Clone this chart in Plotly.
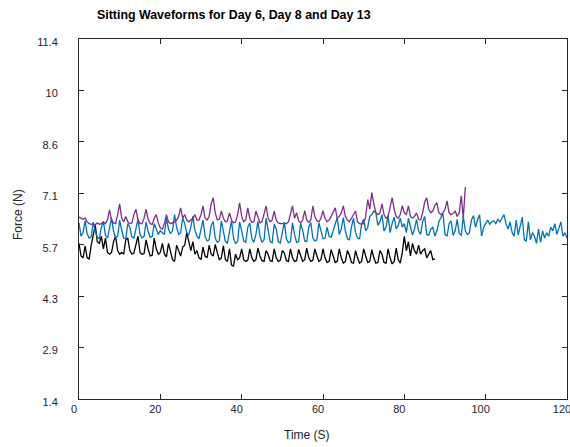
import numpy as np
import plotly.graph_objects as go

DT = 0.5
day13_blue = [
    6.32, 5.95, 6.05, 6.38, 6.02, 5.90, 5.93, 6.34, 6.10, 5.92, 5.88, 6.20, 6.36, 5.98, 5.90, 6.15, 6.46, 6.08, 5.92, 5.95,
    6.40, 6.12, 5.90, 5.88, 6.30, 6.20, 5.93, 5.90, 6.12, 6.42, 6.00, 5.90, 5.95, 6.35, 6.08, 5.92, 5.94, 6.30, 6.15, 6.00, 6.10,
    6.05, 6.00, 6.45, 6.15, 6.02, 6.10, 6.55, 6.20, 6.00, 6.05, 6.45, 6.30, 6.05, 5.98, 6.20, 6.50, 6.12, 5.95, 5.88, 6.15,
    6.40, 5.95, 5.82, 5.85, 6.25, 6.36, 5.90, 5.78, 5.82, 6.38, 6.05, 5.80, 5.76, 6.10, 6.38, 5.90, 5.75, 5.80, 6.35, 6.10,
    5.82, 5.78, 6.20, 6.32, 5.88, 5.78, 6.00, 6.36, 5.95, 5.78, 5.85, 6.45, 6.10, 5.80, 5.77, 6.28, 6.15, 5.80, 5.76, 6.05,
    6.34, 5.88, 5.77, 5.80, 6.32, 6.00, 5.78, 5.80, 6.30, 6.12, 5.82, 5.80, 6.20, 6.33, 5.90, 5.82, 5.85, 6.32, 6.05, 5.88,
    5.90, 6.20, 5.95, 5.92, 6.10, 6.30, 6.47, 6.00, 6.15, 6.47, 6.10, 5.88, 5.85, 6.20, 6.45, 6.05, 5.90, 5.88, 6.30, 6.42,
    6.10, 6.20, 6.50, 6.55, 6.65, 6.60, 6.25, 6.35, 6.55, 6.10, 6.20, 6.52, 6.05, 6.30, 6.48, 6.15, 6.25, 6.45, 6.20, 6.30,
    6.05, 6.45, 6.20, 5.98, 6.15, 6.42, 6.10, 6.00, 6.35, 6.50, 6.00, 5.98, 6.15, 6.20, 5.95, 6.10, 6.35, 6.45, 6.58, 6.00,
    5.95, 6.30, 6.38, 5.97, 6.10, 6.42, 6.02, 5.98, 6.50, 6.10, 6.00, 6.05, 6.40, 6.52, 6.20, 6.40, 6.55, 5.95, 6.20,
    6.30, 6.40, 6.28, 6.35, 6.38, 6.30, 6.42, 6.35, 6.45, 6.55, 6.30, 6.15, 6.35, 6.05, 5.95, 6.40, 5.98, 6.20, 6.48, 5.85,
    5.82, 6.35, 5.85, 6.05, 5.95, 5.75, 6.15, 5.78, 6.10, 5.90, 6.05, 5.95, 6.20, 6.10, 6.30, 6.00, 6.15, 6.35, 5.95, 6.05, 5.90,
]
day8_purple = [
    6.48, 6.45, 6.42, 6.46, 6.35, 6.30, 6.28, 6.30, 6.27, 6.32, 6.28, 6.30, 6.35, 6.30, 6.40, 6.68, 6.40, 6.32, 6.30, 6.55,
    6.85, 6.45, 6.35, 6.50, 6.35, 6.30, 6.32, 6.55, 6.70, 6.40, 6.30, 6.30, 6.45, 6.70, 6.42, 6.30, 6.28, 6.45, 6.55, 6.32, 6.18,
    6.15, 6.30, 6.55, 6.35, 6.30, 6.32, 6.35, 6.40, 6.50, 6.74, 6.45, 6.55, 6.40, 6.35, 6.40, 6.45, 6.55, 6.40, 6.40, 6.55,
    6.79, 6.45, 6.40, 6.50, 6.85, 7.02, 6.60, 6.40, 6.42, 6.65, 6.45, 6.35, 6.38, 6.60, 6.40, 6.32, 6.35, 6.55, 6.88, 6.50,
    6.35, 6.40, 6.74, 6.45, 6.33, 6.35, 6.65, 6.45, 6.32, 6.35, 6.55, 6.79, 6.45, 6.35, 6.40, 6.65, 6.40, 6.32, 6.30, 6.30,
    6.32, 6.30, 6.35, 6.55, 6.79, 6.45, 6.60, 6.38, 6.32, 6.40, 6.66, 6.40, 6.33, 6.40, 6.79, 6.50, 6.38, 6.35, 6.45, 6.66,
    6.45, 6.35, 6.40, 6.50, 6.60, 6.74, 6.45, 6.50, 6.60, 6.79, 6.50, 6.40, 6.35, 6.45, 6.55, 6.65, 6.35, 6.30, 6.29, 6.30,
    6.50, 6.97, 6.70, 7.16, 6.85, 6.60, 6.55, 6.60, 6.85, 6.55, 6.45, 6.50, 6.75, 7.02, 6.70, 6.50, 6.45, 6.55, 6.80, 6.60,
    6.55, 6.79, 6.50, 6.45, 6.50, 6.60, 6.42, 6.40, 6.60, 6.90, 7.02, 6.70, 6.60, 6.65, 6.80, 6.88, 6.60, 6.55, 6.60, 6.70,
    6.93, 6.60, 6.55, 6.58, 6.65, 6.50, 6.60, 7.07, 6.46, 7.32,
]
day6_black = [
    5.75, 5.40, 5.35, 5.68, 5.35, 5.32, 5.70, 5.95, 6.25, 5.80, 5.75, 5.95, 5.60, 5.90, 5.50, 5.45, 5.50, 5.80, 5.95, 5.55,
    5.45, 5.50, 5.45, 5.85, 5.90, 5.55, 5.45, 5.48, 5.75, 5.95, 5.50, 5.45, 5.47, 5.85, 5.60, 5.40, 5.42, 5.90, 5.60, 5.45, 5.50,
    5.75, 5.45, 5.38, 5.75, 5.50, 5.30, 5.25, 5.70, 5.55, 5.40, 5.65, 5.70, 6.05, 5.80, 5.55, 5.80, 5.45, 5.55, 5.35, 5.30,
    5.65, 5.40, 5.35, 5.70, 5.45, 5.40, 5.72, 5.50, 5.30, 5.35, 5.68, 5.30, 5.25, 5.60, 5.15, 5.12, 5.45, 5.30, 5.35, 5.60,
    5.30, 5.25, 5.28, 5.60, 5.35, 5.25, 5.30, 5.62, 5.40, 5.27, 5.25, 5.55, 5.45, 5.27, 5.25, 5.60, 5.35, 5.25, 5.28, 5.55,
    5.48, 5.27, 5.25, 5.60, 5.35, 5.25, 5.27, 5.58, 5.40, 5.25, 5.30, 5.62, 5.35, 5.25, 5.28, 5.60, 5.40, 5.25, 5.30, 5.60,
    5.35, 5.22, 5.25, 5.58, 5.40, 5.22, 5.25, 5.60, 5.35, 5.20, 5.25, 5.55, 5.42, 5.22, 5.20, 5.55, 5.35, 5.20, 5.25, 5.60,
    5.40, 5.22, 5.25, 5.58, 5.35, 5.20, 5.22, 5.55, 5.45, 5.22, 5.20, 5.60, 5.35, 5.18, 5.25, 5.62, 5.30, 5.20, 5.50, 5.95,
    5.55, 5.80, 5.40, 5.75, 5.55, 5.45, 5.70, 5.45, 5.55, 5.60, 5.35, 5.45, 5.55, 5.30, 5.32,
]
y_tick_vals = [1.4286, 2.8571, 4.2857, 5.7143, 7.1429, 8.5714, 10.0, 11.4286]
y_tick_text = ["1.4", "2.9", "4.3", "5.7", "7.1", "8.6", "10", "11.4"]
x_tick_vals = [0, 20, 40, 60, 80, 100, 120]

FONT = "Liberation Sans, Arial, sans-serif"

def times(vals):
    return np.arange(len(vals)) * DT

fig = go.Figure()
fig.add_trace(go.Scatter(x=times(day6_black), y=day6_black, mode="lines",
                         line=dict(color="#000000", width=1.3), name="Day 6"))
fig.add_trace(go.Scatter(x=times(day13_blue), y=day13_blue, mode="lines",
                         line=dict(color="#0072BD", width=1.3), name="Day 13"))
fig.add_trace(go.Scatter(x=times(day8_purple), y=day8_purple, mode="lines",
                         line=dict(color="#7E2F8E", width=1.3), name="Day 8"))

axis_common = dict(showgrid=False, zeroline=False, showline=True, linecolor="#262626",
                   linewidth=1, mirror="ticks", ticks="inside", ticklen=5, tickwidth=1,
                   tickcolor="#262626", automargin=False, ticklabeloverflow="allow",
                   tickfont=dict(family=FONT, size=11, color="#262626"))

fig.update_xaxes(range=[0, 120], tickvals=x_tick_vals, ticklabelshift=-5, **axis_common)
fig.update_yaxes(range=[1.4286, 11.4286], tickvals=y_tick_vals, ticktext=y_tick_text,
                 ticklabelshift=3, ticklabelstandoff=18, **axis_common)

fig.update_layout(
    width=570, height=447,
    margin=dict(l=79, r=3, t=39, b=48, autoexpand=False),
    paper_bgcolor="white", plot_bgcolor="white",
    showlegend=False,
    font=dict(family=FONT, color="#262626"),
    title=dict(text="<b>Sitting Waveforms for Day 6, Day 8 and Day 13</b>",
               font=dict(family=FONT, size=12.4, color="#000000"),
               x=97 / 570, xanchor="left", xref="container",
               y=1 - 15 / 447, yanchor="middle", yref="container"),
    annotations=[
        dict(text="Time (S)", xref="paper", yref="paper",
             x=(307 - 79) / 488, y=-(435 - 399) / 360, xanchor="center", yanchor="middle",
             showarrow=False, font=dict(family=FONT, size=12, color="#262626")),
        dict(text="Force (N)", xref="paper", yref="paper",
             x=-(79 - 18) / 488, y=(399 - 215) / 360, xanchor="center", yanchor="middle",
             textangle=-90, showarrow=False, font=dict(family=FONT, size=12, color="#262626")),
    ],
)

fig.write_html("out.html", config={"displayModeBar": False},
               post_script="document.body.style.margin='0';document.body.style.overflow='hidden';")
